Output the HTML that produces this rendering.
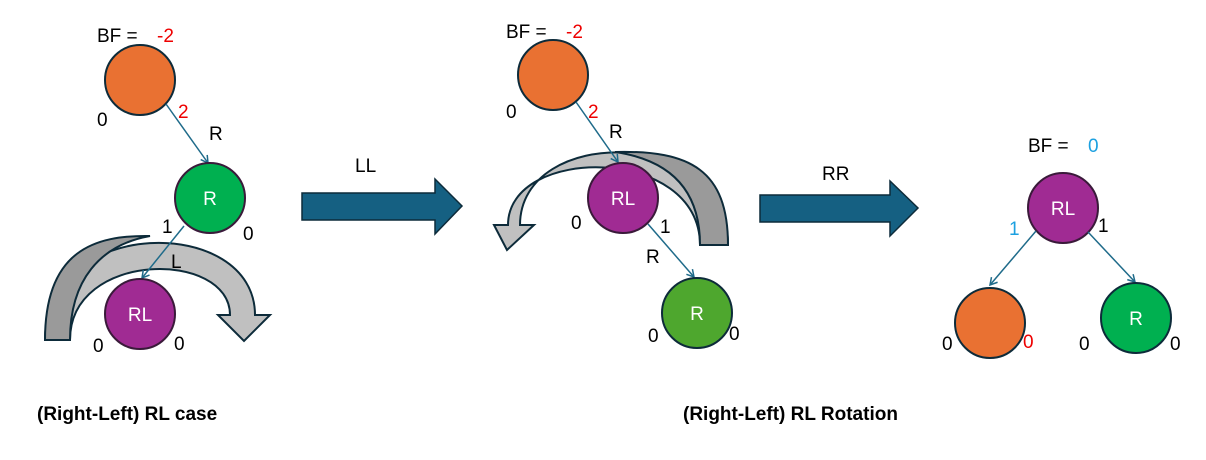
<!DOCTYPE html>
<html><head><meta charset="utf-8"><style>
body{margin:0;background:#fff}
svg text{font-family:"Liberation Sans",sans-serif}
</style></head><body>
<svg width="1206" height="455" viewBox="0 0 1206 455" xmlns="http://www.w3.org/2000/svg">
<defs><marker id="a" markerWidth="10" markerHeight="10" refX="8" refY="5" orient="auto" markerUnits="userSpaceOnUse"><path d="M1,1 L8,5 L1,9" fill="none" stroke="#1f6b8a" stroke-width="1.5"/></marker></defs>
<g font-size="19">
<!-- Left tree -->
<text x="97" y="42">BF =</text><text x="157" y="42" fill="#e00">-2</text>
<circle cx="140" cy="80" r="35" fill="#e97132" stroke="#0d2b3a" stroke-width="2"/>
<text x="97" y="126">0</text><text x="178" y="118" fill="#e00">2</text>
<line x1="166" y1="104" x2="208" y2="163" stroke="#1f6b8a" stroke-width="1.5" marker-end="url(#a)"/>
<text x="209" y="140">R</text>
<path d="M45,340 C45,215 255,215 255,315 L270,315 L244,341 L218,315 L230,315 C230,250 70,250 70,340 Z" fill="#c0c0c0" stroke="#0d2b3a" stroke-width="2"/>
<path d="M45,340 C45,250 95,235 150,236 C100,245 70,280 70,340 Z" fill="#9a9a9a" stroke="#0d2b3a" stroke-width="2"/>
<circle cx="210" cy="198" r="35" fill="#00b050" stroke="#3a1a3a" stroke-width="2"/>
<text x="210" y="205" fill="#fff" text-anchor="middle">R</text>
<text x="162" y="233">1</text><text x="243" y="240">0</text>
<line x1="184" y1="226" x2="142" y2="278" stroke="#1f6b8a" stroke-width="1.5" marker-end="url(#a)"/>
<text x="171" y="268">L</text>
<circle cx="140" cy="314" r="35" fill="#a02b93" stroke="#3a1a3a" stroke-width="2"/>
<text x="140" y="321" fill="#fff" text-anchor="middle">RL</text>
<text x="93" y="352">0</text><text x="174" y="350">0</text>
<text x="37" y="420" font-weight="bold">(Right-Left) RL case</text>
<!-- Arrow LL -->
<text x="355" y="172">LL</text>
<path d="M302,193 L435,193 L435,179 L462,206 L435,234 L435,220 L302,220 Z" fill="#156082" stroke="#0d2b3a" stroke-width="1.5"/>
<!-- Middle tree -->
<text x="506" y="38">BF =</text><text x="566" y="38" fill="#e00">-2</text>
<circle cx="553" cy="75" r="35" fill="#e97132" stroke="#0d2b3a" stroke-width="2"/>
<text x="506" y="118">0</text><text x="588" y="118" fill="#e00">2</text>
<path d="M728,245 C728,125 520,125 520,225 L534,225 L507,250 L494,225 L508,225 C508,145 700,145 700,245 Z" fill="#c0c0c0" stroke="#0d2b3a" stroke-width="2"/>
<path d="M728,245 C728,170 690,150 615,152 C670,160 700,190 700,245 Z" fill="#9a9a9a" stroke="#0d2b3a" stroke-width="2"/>
<line x1="576" y1="102" x2="618" y2="162" stroke="#1f6b8a" stroke-width="1.5" marker-end="url(#a)"/>
<text x="609" y="138">R</text>
<circle cx="623" cy="198" r="35" fill="#a02b93" stroke="#3a1a3a" stroke-width="2"/>
<text x="623" y="205" fill="#fff" text-anchor="middle">RL</text>
<text x="571" y="229">0</text><text x="660" y="233">1</text>
<line x1="648" y1="224" x2="694" y2="277" stroke="#1f6b8a" stroke-width="1.5" marker-end="url(#a)"/>
<text x="646" y="263">R</text>
<circle cx="697" cy="313" r="35" fill="#4ea72e" stroke="#0d2b3a" stroke-width="2"/>
<text x="697" y="320" fill="#fff" text-anchor="middle">R</text>
<text x="648" y="342">0</text><text x="729" y="340">0</text>
<text x="683" y="420" font-weight="bold">(Right-Left) RL Rotation</text>
<!-- Arrow RR -->
<text x="822" y="180">RR</text>
<path d="M760,195 L890,195 L890,181 L918,208 L890,236 L890,222 L760,222 Z" fill="#156082" stroke="#0d2b3a" stroke-width="1.5"/>
<!-- Right tree -->
<text x="1028" y="152">BF =</text><text x="1088" y="152" fill="#1ca0e0">0</text>
<circle cx="1063" cy="208" r="35" fill="#a02b93" stroke="#3a1a3a" stroke-width="2"/>
<text x="1063" y="215" fill="#fff" text-anchor="middle">RL</text>
<text x="1009" y="235" fill="#1ca0e0">1</text><text x="1098" y="232">1</text>
<line x1="1036" y1="231" x2="990" y2="285" stroke="#1f6b8a" stroke-width="1.5" marker-end="url(#a)"/>
<line x1="1088" y1="232" x2="1135" y2="282" stroke="#1f6b8a" stroke-width="1.5" marker-end="url(#a)"/>
<circle cx="990" cy="323" r="35" fill="#e97132" stroke="#0d2b3a" stroke-width="2"/>
<text x="942" y="350">0</text><text x="1023" y="348" fill="#e00">0</text>
<circle cx="1136" cy="318" r="35" fill="#00b050" stroke="#0d2b3a" stroke-width="2"/>
<text x="1136" y="325" fill="#fff" text-anchor="middle">R</text>
<text x="1079" y="350">0</text><text x="1170" y="350">0</text>
</g>
</svg>
</body></html>
